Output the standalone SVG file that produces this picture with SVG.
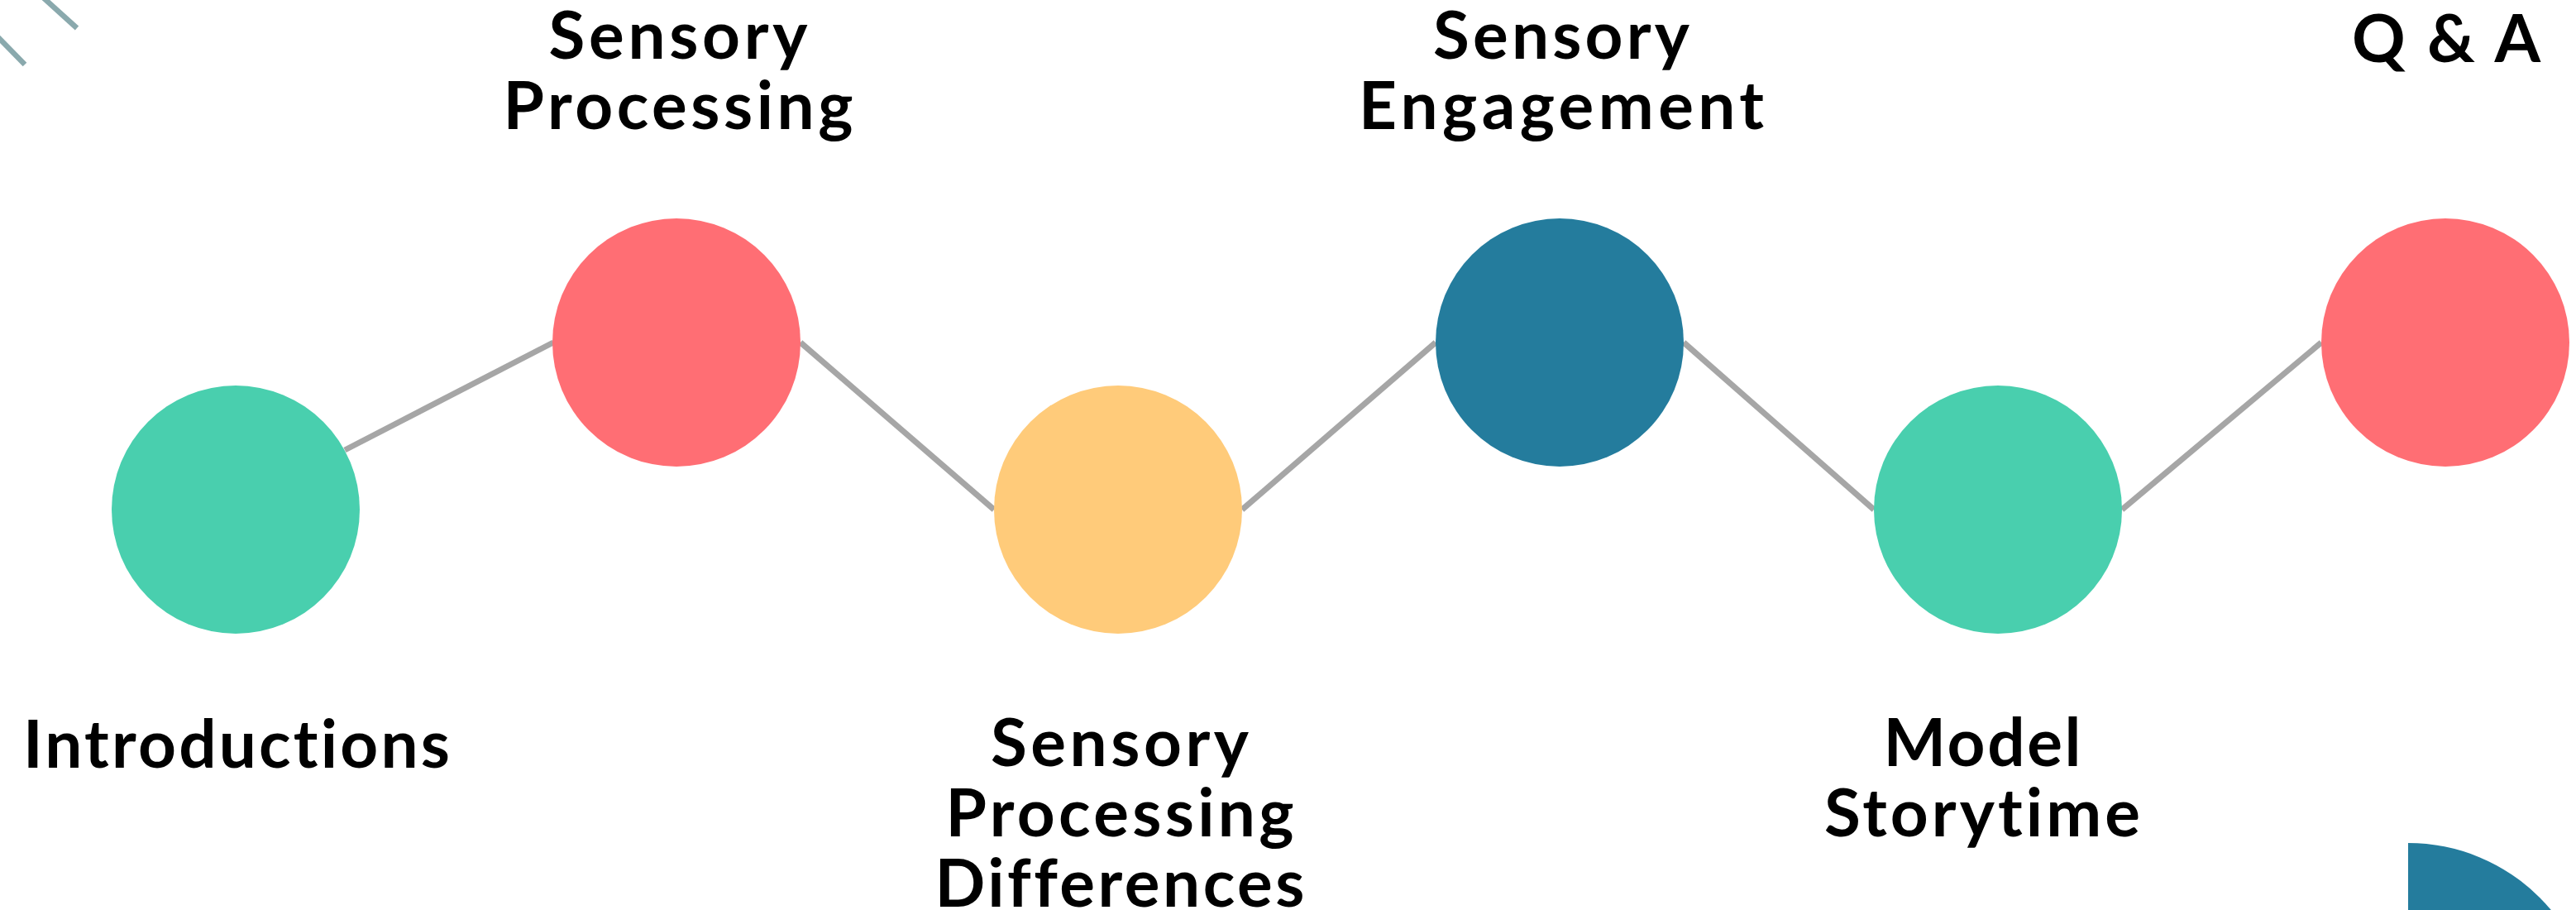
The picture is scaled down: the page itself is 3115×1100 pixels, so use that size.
<svg xmlns="http://www.w3.org/2000/svg" width="3115" height="1100" viewBox="0 0 3115 1100">
<style>
.lbl{font-family:Lato,"Open Sans","Liberation Sans",sans-serif;font-weight:700;font-size:80px;fill:#000;text-anchor:middle;font-variant-ligatures:none;font-feature-settings:"liga" 0,"clig" 0}
.conn line{stroke:#a6a6a6;stroke-width:7}
.deco{stroke:#8aa9ad;stroke-width:6.5}
.teal{fill:#49cfae}.coral{fill:#ff6e74}.yellow{fill:#ffcb7a}.blue{fill:#247c9d}
</style>
<rect width="3115" height="1100" fill="#fff"/>
<g id="decor">
<line class="deco" x1="40" y1="-14" x2="93" y2="34"/>
<line class="deco" x1="-12" y1="35" x2="30" y2="78"/>
<path class="blue" d="M2912,1244 L2912,1019 A225,225 0 0 1 3137,1244 Z"/>
</g>
<g id="connectors" class="conn">
<line x1="417" y1="544" x2="669" y2="414"/>
<line x1="968" y1="414" x2="1202" y2="616"/>
<line x1="1502" y1="616" x2="1736" y2="414"/>
<line x1="2036" y1="414" x2="2266" y2="616"/>
<line x1="2566" y1="616" x2="2807" y2="414"/>
</g>
<g id="node-introductions">
<circle class="teal" cx="285" cy="616" r="150"/>
<text class="lbl" x="286" y="928" textLength="516" lengthAdjust="spacing">Introductions</text>
</g>
<g id="node-sensory-processing">
<circle class="coral" cx="818" cy="414" r="150"/>
<text class="lbl" x="820" y="71" textLength="313" lengthAdjust="spacing">Sensory</text>
<text class="lbl" x="820" y="156" textLength="423" lengthAdjust="spacing">Processing</text>
</g>
<g id="node-sensory-processing-differences">
<circle class="yellow" cx="1352" cy="616" r="150"/>
<text class="lbl" x="1354" y="926" textLength="312" lengthAdjust="spacing">Sensory</text>
<text class="lbl" x="1354" y="1011" textLength="421" lengthAdjust="spacing">Processing</text>
<text class="lbl" x="1354" y="1096" textLength="447" lengthAdjust="spacing">Differences</text>
</g>
<g id="node-sensory-engagement">
<circle class="blue" cx="1886" cy="414" r="150"/>
<text class="lbl" x="1888" y="71" textLength="310" lengthAdjust="spacing">Sensory</text>
<text class="lbl" x="1888" y="156" textLength="490" lengthAdjust="spacing">Engagement</text>
</g>
<g id="node-model-storytime">
<circle class="teal" cx="2416" cy="616" r="150"/>
<text class="lbl" x="2397" y="926" textLength="239" lengthAdjust="spacing">Model</text>
<text class="lbl" x="2397" y="1011" textLength="382" lengthAdjust="spacing">Storytime</text>
</g>
<g id="node-qa">
<circle class="coral" cx="2957" cy="414" r="150"/>
<text class="lbl" x="2958" y="75" textLength="228" lengthAdjust="spacing">Q &amp; A</text>
</g>
</svg>
